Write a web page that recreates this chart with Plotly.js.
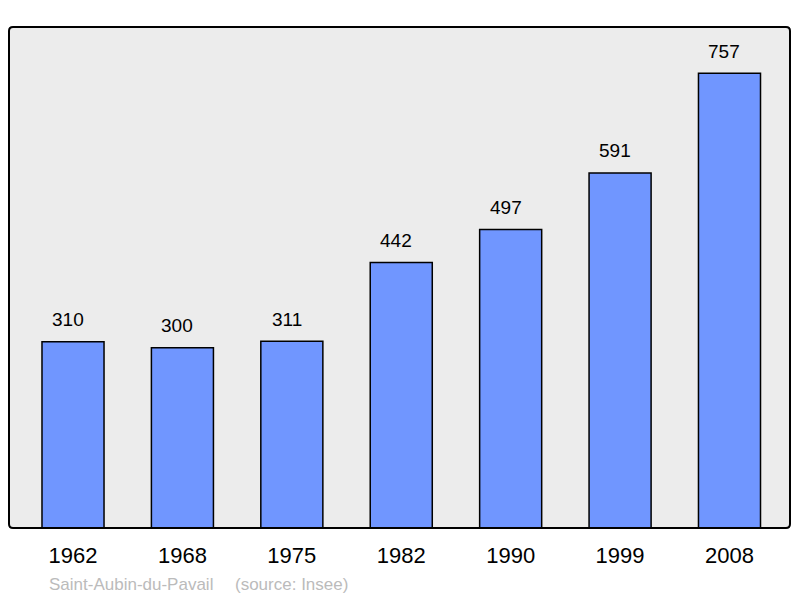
<!DOCTYPE html>
<html>
<head>
<meta charset="utf-8">
<script src="https://cdn.plot.ly/plotly-3.0.1.min.js"></script>
<style>html,body{margin:0;padding:0;background:#fff;}#chart{width:800px;height:598px;}</style>
</head>
<body>
<div id="chart"></div>
<script>
var years = ["1962", "1968", "1975", "1982", "1990", "1999", "2008"];
var population = [310, 300, 311, 442, 497, 591, 757];
var commune = "Saint-Aubin-du-Pavail";
var source = "(source: Insee)";

var idx = years.map(function (_, i) { return i; });

var W = 781, H = 501; // plot area size in px
var rx = 4 / W, ry = 4 / H;
var framePath = "M " + rx + " 0 L " + (1 - rx) + " 0 Q 1 0 1 " + ry +
  " L 1 " + (1 - ry) + " Q 1 1 " + (1 - rx) + " 1 L " + rx + " 1 Q 0 1 0 " + (1 - ry) +
  " L 0 " + ry + " Q 0 0 " + rx + " 0 Z";

var annotations = idx.map(function (i) {
  return {
    x: i, y: population[i], xref: "x", yref: "y",
    text: String(population[i]), showarrow: false,
    yanchor: "middle", yshift: 22, xshift: -5,
    font: {family: "Liberation Sans, Arial, sans-serif", size: 19, color: "#000"}
  };
});
annotations.push({
  x: 47, y: 584, xref: "paper", yref: "paper", text: commune, showarrow: false,
  xanchor: "left", yanchor: "middle",
  font: {family: "Liberation Sans, Arial, sans-serif", size: 17, color: "#bbbbbb"}
});
annotations.push({
  x: 233, y: 584, xref: "paper", yref: "paper", text: source, showarrow: false,
  xanchor: "left", yanchor: "middle",
  font: {family: "Liberation Sans, Arial, sans-serif", size: 17, color: "#bbbbbb"}
});
// convert footer px positions to paper coords
annotations.forEach(function (a) {
  if (a.xref === "paper") {
    a.x = (a.x - 9) / W;
    a.y = (528 - a.y) / H;
  }
});

var trace = {
  type: "bar",
  x: idx,
  y: population,
  width: 0.567,
  marker: {color: "#7096ff", line: {color: "#000", width: 1.5}},
  hoverinfo: "none"
};

var layout = {
  width: 800, height: 598,
  margin: {l: 9, r: 10, t: 27, b: 70, pad: 0},
  paper_bgcolor: "#ffffff",
  plot_bgcolor: "#ececec",
  showlegend: false,
  xaxis: {
    range: [-0.585, 6.553],
    tickmode: "array", tickvals: idx, ticktext: years,
    showgrid: false, zeroline: false, showline: false,
    ticks: "", ticklen: 0,
    ticklabelstandoff: 12,
    tickfont: {family: "Liberation Sans, Arial, sans-serif", size: 22, color: "#000"},
    fixedrange: true
  },
  yaxis: {
    range: [0, 834],
    showgrid: false, zeroline: false, showline: false,
    showticklabels: false, ticks: "",
    fixedrange: true
  },
  shapes: [{
    type: "path", xref: "paper", yref: "paper", path: framePath,
    line: {color: "#000", width: 2}, fillcolor: "rgba(0,0,0,0)", layer: "above"
  }],
  annotations: annotations
};

Plotly.newPlot("chart", [trace], layout, {displayModeBar: false, staticPlot: true});
</script>
</body>
</html>
